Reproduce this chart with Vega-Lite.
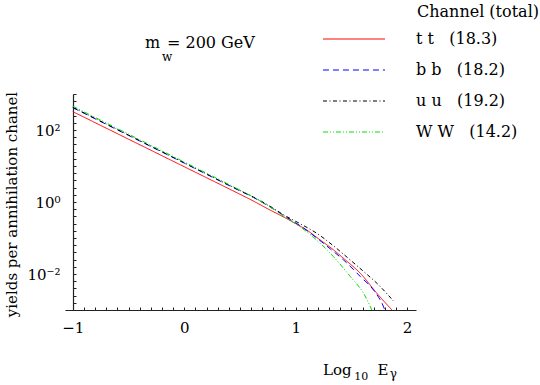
{
  "$schema": "https://vega.github.io/schema/vega-lite/v6.json",
  "width": 351,
  "height": 216,
  "autosize": {"type": "none"},
  "padding": {"left": 65, "top": 94, "right": 124, "bottom": 75},
  "background": "white",
  "config": {
    "view": {"stroke": null},
    "font": "DejaVu Serif",
    "axis": {"grid": false, "domainColor": "#222", "domainWidth": 1.2, "tickColor": "#222", "tickWidth": 1, "labelFont": "DejaVu Serif", "labelColor": "black", "labelFontSize": 15, "titleFont": "DejaVu Serif", "titleColor": "black", "titleFontWeight": "normal"},
    "legend": {"labelFont": "DejaVu Serif", "labelColor": "black"},
    "text": {"font": "DejaVu Serif"}
  },
  "layer": [
    {
      "data": {"values": [
        {"channel": "t t\u00a0\u00a0\u00a0(18.3)", "log10_E": -1.0, "log10_yield": 2.51},
        {"channel": "t t\u00a0\u00a0\u00a0(18.3)", "log10_E": -0.5, "log10_yield": 1.745},
        {"channel": "t t\u00a0\u00a0\u00a0(18.3)", "log10_E": 0.0, "log10_yield": 0.98},
        {"channel": "t t\u00a0\u00a0\u00a0(18.3)", "log10_E": 0.5, "log10_yield": 0.215},
        {"channel": "t t\u00a0\u00a0\u00a0(18.3)", "log10_E": 0.6, "log10_yield": 0.06},
        {"channel": "t t\u00a0\u00a0\u00a0(18.3)", "log10_E": 0.75, "log10_yield": -0.19},
        {"channel": "t t\u00a0\u00a0\u00a0(18.3)", "log10_E": 0.9, "log10_yield": -0.43},
        {"channel": "t t\u00a0\u00a0\u00a0(18.3)", "log10_E": 1.0, "log10_yield": -0.6},
        {"channel": "t t\u00a0\u00a0\u00a0(18.3)", "log10_E": 1.1, "log10_yield": -0.78},
        {"channel": "t t\u00a0\u00a0\u00a0(18.3)", "log10_E": 1.2, "log10_yield": -1.01},
        {"channel": "t t\u00a0\u00a0\u00a0(18.3)", "log10_E": 1.34, "log10_yield": -1.33},
        {"channel": "t t\u00a0\u00a0\u00a0(18.3)", "log10_E": 1.45, "log10_yield": -1.62},
        {"channel": "t t\u00a0\u00a0\u00a0(18.3)", "log10_E": 1.58, "log10_yield": -1.98},
        {"channel": "t t\u00a0\u00a0\u00a0(18.3)", "log10_E": 1.73, "log10_yield": -2.54},
        {"channel": "t t\u00a0\u00a0\u00a0(18.3)", "log10_E": 1.864, "log10_yield": -3.0},
        {"channel": "b b\u00a0\u00a0\u00a0(18.2)", "log10_E": -1.0, "log10_yield": 2.62},
        {"channel": "b b\u00a0\u00a0\u00a0(18.2)", "log10_E": -0.5, "log10_yield": 1.85},
        {"channel": "b b\u00a0\u00a0\u00a0(18.2)", "log10_E": 0.0, "log10_yield": 1.08},
        {"channel": "b b\u00a0\u00a0\u00a0(18.2)", "log10_E": 0.5, "log10_yield": 0.31},
        {"channel": "b b\u00a0\u00a0\u00a0(18.2)", "log10_E": 0.6, "log10_yield": 0.16},
        {"channel": "b b\u00a0\u00a0\u00a0(18.2)", "log10_E": 0.75, "log10_yield": -0.1},
        {"channel": "b b\u00a0\u00a0\u00a0(18.2)", "log10_E": 0.9, "log10_yield": -0.39},
        {"channel": "b b\u00a0\u00a0\u00a0(18.2)", "log10_E": 1.05, "log10_yield": -0.68},
        {"channel": "b b\u00a0\u00a0\u00a0(18.2)", "log10_E": 1.19, "log10_yield": -1.0},
        {"channel": "b b\u00a0\u00a0\u00a0(18.2)", "log10_E": 1.31, "log10_yield": -1.3},
        {"channel": "b b\u00a0\u00a0\u00a0(18.2)", "log10_E": 1.43, "log10_yield": -1.61},
        {"channel": "b b\u00a0\u00a0\u00a0(18.2)", "log10_E": 1.58, "log10_yield": -2.07},
        {"channel": "b b\u00a0\u00a0\u00a0(18.2)", "log10_E": 1.7, "log10_yield": -2.45},
        {"channel": "b b\u00a0\u00a0\u00a0(18.2)", "log10_E": 1.79, "log10_yield": -2.92},
        {"channel": "b b\u00a0\u00a0\u00a0(18.2)", "log10_E": 1.8, "log10_yield": -3.0},
        {"channel": "u u\u00a0\u00a0\u00a0(19.2)", "log10_E": -1.0, "log10_yield": 2.63},
        {"channel": "u u\u00a0\u00a0\u00a0(19.2)", "log10_E": -0.5, "log10_yield": 1.86},
        {"channel": "u u\u00a0\u00a0\u00a0(19.2)", "log10_E": 0.0, "log10_yield": 1.09},
        {"channel": "u u\u00a0\u00a0\u00a0(19.2)", "log10_E": 0.5, "log10_yield": 0.32},
        {"channel": "u u\u00a0\u00a0\u00a0(19.2)", "log10_E": 0.6, "log10_yield": 0.17},
        {"channel": "u u\u00a0\u00a0\u00a0(19.2)", "log10_E": 0.75, "log10_yield": -0.08},
        {"channel": "u u\u00a0\u00a0\u00a0(19.2)", "log10_E": 0.9, "log10_yield": -0.37},
        {"channel": "u u\u00a0\u00a0\u00a0(19.2)", "log10_E": 1.05, "log10_yield": -0.62},
        {"channel": "u u\u00a0\u00a0\u00a0(19.2)", "log10_E": 1.19, "log10_yield": -0.87},
        {"channel": "u u\u00a0\u00a0\u00a0(19.2)", "log10_E": 1.34, "log10_yield": -1.22},
        {"channel": "u u\u00a0\u00a0\u00a0(19.2)", "log10_E": 1.49, "log10_yield": -1.61},
        {"channel": "u u\u00a0\u00a0\u00a0(19.2)", "log10_E": 1.61, "log10_yield": -1.93},
        {"channel": "u u\u00a0\u00a0\u00a0(19.2)", "log10_E": 1.73, "log10_yield": -2.26},
        {"channel": "u u\u00a0\u00a0\u00a0(19.2)", "log10_E": 1.878, "log10_yield": -2.75},
        {"channel": "W W\u00a0\u00a0\u00a0(14.2)", "log10_E": -1.0, "log10_yield": 2.66},
        {"channel": "W W\u00a0\u00a0\u00a0(14.2)", "log10_E": -0.5, "log10_yield": 1.885},
        {"channel": "W W\u00a0\u00a0\u00a0(14.2)", "log10_E": 0.0, "log10_yield": 1.11},
        {"channel": "W W\u00a0\u00a0\u00a0(14.2)", "log10_E": 0.5, "log10_yield": 0.33},
        {"channel": "W W\u00a0\u00a0\u00a0(14.2)", "log10_E": 0.6, "log10_yield": 0.17},
        {"channel": "W W\u00a0\u00a0\u00a0(14.2)", "log10_E": 0.75, "log10_yield": -0.1},
        {"channel": "W W\u00a0\u00a0\u00a0(14.2)", "log10_E": 0.9, "log10_yield": -0.41},
        {"channel": "W W\u00a0\u00a0\u00a0(14.2)", "log10_E": 1.04, "log10_yield": -0.69},
        {"channel": "W W\u00a0\u00a0\u00a0(14.2)", "log10_E": 1.19, "log10_yield": -1.06},
        {"channel": "W W\u00a0\u00a0\u00a0(14.2)", "log10_E": 1.34, "log10_yield": -1.52},
        {"channel": "W W\u00a0\u00a0\u00a0(14.2)", "log10_E": 1.49, "log10_yield": -2.07},
        {"channel": "W W\u00a0\u00a0\u00a0(14.2)", "log10_E": 1.61, "log10_yield": -2.54},
        {"channel": "W W\u00a0\u00a0\u00a0(14.2)", "log10_E": 1.684, "log10_yield": -3.0}
      ]},
      "mark": {"type": "line", "strokeWidth": 1, "interpolate": "monotone", "clip": true},
      "encoding": {
        "x": {"field": "log10_E", "type": "quantitative",
              "scale": {"domain": [-1.07, 2.08], "nice": false, "zero": false},
              "axis": {"title": null, "tickCount": 30, "tickSize": -3, "labelPadding": 13, "labelOverlap": false, "labelFlush": false,
                       "labelExpr": "abs(datum.value - round(datum.value)) < 0.001 ? format(datum.value, 'd') : ''"}},
        "y": {"field": "log10_yield", "type": "quantitative",
              "scale": {"domain": [-3, 3], "nice": false, "zero": false},
              "axis": {"title": "yields per annihilation chanel", "offset": -8, "tickCount": 30, "tickSize": -3, "labelPadding": 16, "labelOverlap": false, "labelFlush": false,
                       "labelExpr": "datum.value == 2 ? '10\u00b2' : datum.value == 0 ? '10\u2070' : datum.value == -2 ? '10\u207b\u00b2' : ''",
                       "titleFontSize": 15, "titleAngle": 270, "titleX": -57, "titleY": 110, "titleAlign": "center", "titleBaseline": "alphabetic", "titleAnchor": "middle"}},
        "color": {"field": "channel", "type": "nominal",
                  "scale": {"domain": ["t t\u00a0\u00a0\u00a0(18.3)", "b b\u00a0\u00a0\u00a0(18.2)", "u u\u00a0\u00a0\u00a0(19.2)", "W W\u00a0\u00a0\u00a0(14.2)"],
                            "range": ["#ff0000", "#0000ff", "#000000", "#00e000"]},
                  "legend": {"title": null, "orient": "none", "legendX": 281, "legendY": -63,
                             "symbolType": "M-5,0H5", "symbolSize": 154, "symbolStrokeWidth": 1,
                             "labelFontSize": 16, "labelOffset": 54, "rowPadding": 15, "labelBaseline": "middle"}},
        "strokeDash": {"field": "channel", "type": "nominal",
                  "scale": {"domain": ["t t\u00a0\u00a0\u00a0(18.3)", "b b\u00a0\u00a0\u00a0(18.2)", "u u\u00a0\u00a0\u00a0(19.2)", "W W\u00a0\u00a0\u00a0(14.2)"],
                            "range": [[1, 0], [6, 4], [4, 2.5, 1, 2.5], [5, 2, 1, 2, 1, 2]]},
                  "legend": {"title": null, "orient": "none", "legendX": 281, "legendY": -63,
                             "symbolType": "M-5,0H5", "symbolSize": 154, "symbolStrokeWidth": 1,
                             "labelFontSize": 16, "labelOffset": 54, "rowPadding": 15, "labelBaseline": "middle"}}
      }
    },
    {
      "data": {"values": [{"note": "Channel (total)"}]},
      "mark": {"type": "text", "align": "left", "baseline": "alphabetic", "fontSize": 16, "color": "black"},
      "encoding": {"x": {"datum": 2.089, "type": "quantitative"}, "y": {"datum": 5.139, "type": "quantitative"}, "text": {"field": "note"}}
    },
    {
      "data": {"values": [{"note": "m"}]},
      "mark": {"type": "text", "align": "left", "baseline": "alphabetic", "fontSize": 16, "color": "black"},
      "encoding": {"x": {"datum": -0.352, "type": "quantitative"}, "y": {"datum": 4.278, "type": "quantitative"}, "text": {"field": "note"}}
    },
    {
      "data": {"values": [{"note": "w"}]},
      "mark": {"type": "text", "align": "left", "baseline": "alphabetic", "fontSize": 12, "color": "black"},
      "encoding": {"x": {"datum": -0.2, "type": "quantitative"}, "y": {"datum": 3.92, "type": "quantitative"}, "text": {"field": "note"}}
    },
    {
      "data": {"values": [{"note": "= 200 GeV"}]},
      "mark": {"type": "text", "align": "left", "baseline": "alphabetic", "fontSize": 16, "color": "black"},
      "encoding": {"x": {"datum": -0.155, "type": "quantitative"}, "y": {"datum": 4.278, "type": "quantitative"}, "text": {"field": "note"}}
    },
    {
      "data": {"values": [{"note": "Log"}]},
      "mark": {"type": "text", "align": "left", "baseline": "alphabetic", "fontSize": 15, "color": "black"},
      "encoding": {"x": {"datum": 1.245, "type": "quantitative"}, "y": {"datum": -4.806, "type": "quantitative"}, "text": {"field": "note"}}
    },
    {
      "data": {"values": [{"note": "10"}]},
      "mark": {"type": "text", "align": "left", "baseline": "alphabetic", "fontSize": 11, "color": "black"},
      "encoding": {"x": {"datum": 1.525, "type": "quantitative"}, "y": {"datum": -4.944, "type": "quantitative"}, "text": {"field": "note"}}
    },
    {
      "data": {"values": [{"note": "E"}]},
      "mark": {"type": "text", "align": "left", "baseline": "alphabetic", "fontSize": 15, "color": "black"},
      "encoding": {"x": {"datum": 1.735, "type": "quantitative"}, "y": {"datum": -4.806, "type": "quantitative"}, "text": {"field": "note"}}
    },
    {
      "data": {"values": [{"note": "γ"}]},
      "mark": {"type": "text", "align": "left", "baseline": "alphabetic", "fontSize": 12, "color": "black"},
      "encoding": {"x": {"datum": 1.845, "type": "quantitative"}, "y": {"datum": -4.889, "type": "quantitative"}, "text": {"field": "note"}}
    }
  ]
}
